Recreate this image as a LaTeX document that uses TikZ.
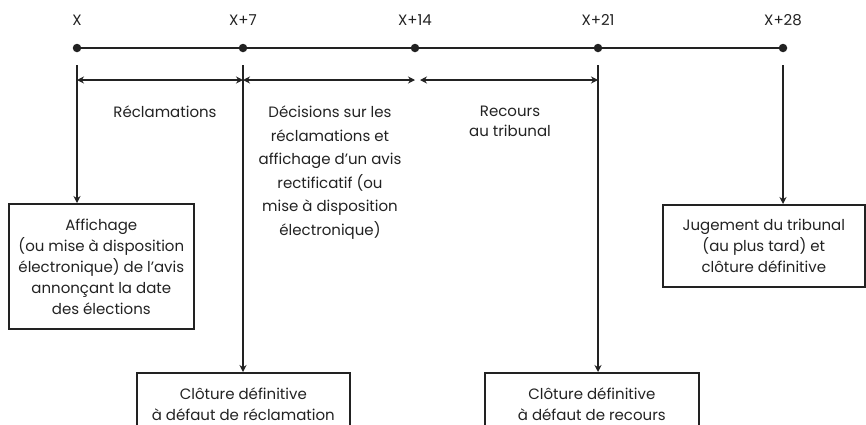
\documentclass[tikz,border=0pt]{standalone}
\usepackage{fontspec}
\setmainfont{Poppins}
\usetikzlibrary{arrows.meta}
\definecolor{ink}{HTML}{222222}
\begin{document}
\begin{tikzpicture}[x=1pt,y=-1pt,
  every node/.style={text=ink},
  lbl/.style={font=\fontsize{15}{21}\selectfont, inner sep=0pt, align=center},
  dot/.style={circle, fill=ink, inner sep=0pt, minimum size=8.5pt},
  box/.style={draw=ink, line width=1.6pt, font=\fontsize{15}{21}\selectfont, align=center, inner sep=0pt, anchor=north west},
  conn/.style={draw=ink, line width=1.6pt, -{Stealth[length=7pt,width=7pt]}},
  span/.style={draw=ink, line width=1.6pt, {Stealth[length=7pt,width=7pt]}-{Stealth[length=7pt,width=7pt]}}
]
\useasboundingbox (0,0) rectangle (866,424);
\clip (0,0) rectangle (866,424);
% timeline
\node[dot] (d0) at (77,48) {};
\node[dot] (d1) at (243,48) {};
\node[dot] (d2) at (415,48) {};
\node[dot] (d3) at (598,48) {};
\node[dot] (d4) at (783,48) {};
\draw[ink, line width=2.2pt] (d0.center) -- (d4.center);
\node[lbl] (l0) at (77,20) {X};
\node[lbl] (l1) at (243,20) {X+7};
\node[lbl] (l2) at (415,20) {X+14};
\node[lbl] (l3) at (598,20) {X+21};
\node[lbl] (l4) at (783,20) {X+28};
% vertical starts
\coordinate (t0) at (77,65);
\coordinate (t1) at (243,65);
\coordinate (t3) at (598,65);
\coordinate (t4) at (783,65);
\coordinate (a0) at (77,80);
\coordinate (a1) at (243,80);
\coordinate (a2) at (415,80);
\coordinate (a2r) at (420,80);
\coordinate (a3) at (598,80);
% boxes
\node[box, minimum width=185pt, minimum height=125pt, text depth=-4pt] (b0) at (8,203)
  {Affichage\\(ou mise à disposition\\électronique) de l’avis\\annonçant la date\\des élections};
\node[box, minimum width=213pt, minimum height=62pt] (b1) at (136,372)
  {Clôture définitive\\à défaut de réclamation};
\node[box, minimum width=214pt, minimum height=62pt] (b3) at (484,372)
  {Clôture définitive\\à défaut de recours};
\node[box, minimum width=202pt, minimum height=82pt] (b4) at (662,204)
  {Jugement du tribunal\\(au plus tard) et\\clôture définitive};
% connectors
\draw[conn] (t0) -- (t0 |- b0.north);
\draw[conn] (t1) -- (t1 |- b1.north);
\draw[conn] (t3) -- (t3 |- b3.north);
\draw[conn] (t4) -- (t4 |- b4.north);
% spans
\draw[span] (a0) -- (a1);
\draw[span] (a1) -- (a2);
\draw[span] (a2r) -- (a3);
% span labels
\node[lbl, anchor=north] (s0) at (165,106) {Réclamations};
\node[lbl, anchor=north, font=\fontsize{15}{23.5}\selectfont] (s1) at (330,106)
  {Décisions sur les\\réclamations et\\affichage d’un avis\\rectificatif (ou\\mise à disposition\\électronique)};
\node[lbl, anchor=north, font=\fontsize{15}{20}\selectfont] (s2) at (510,106) {Recours\\au tribunal};
\end{tikzpicture}
\end{document}
